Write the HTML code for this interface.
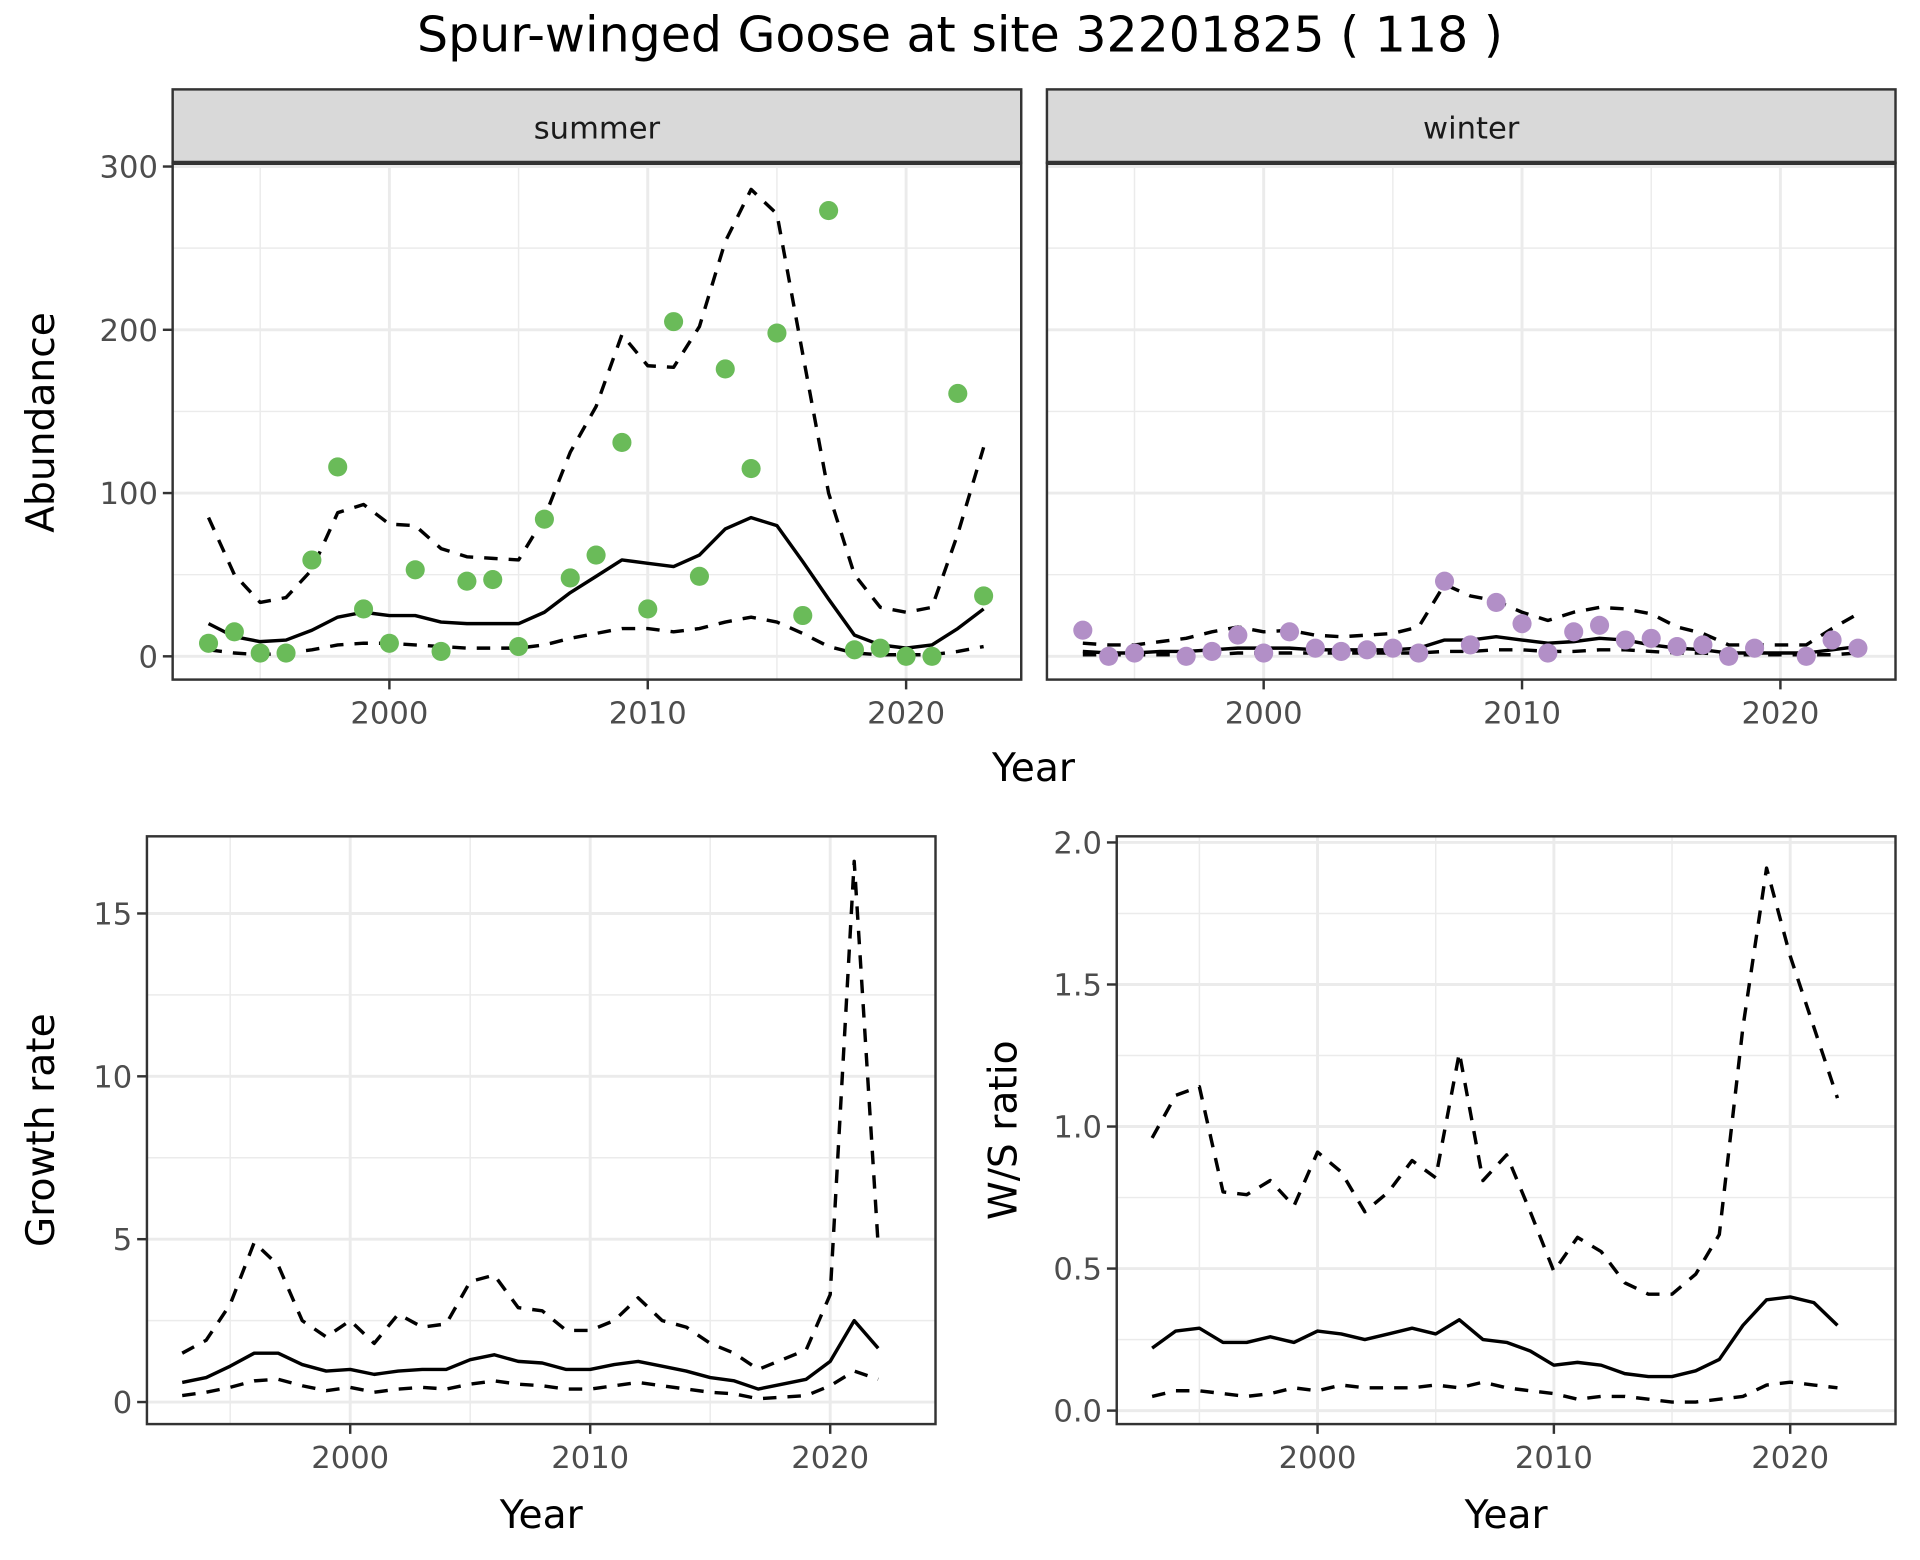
<!DOCTYPE html>
<html><head><meta charset="utf-8"><style>
html,body{margin:0;padding:0;background:#fff;}
svg{display:block;font-family:"DejaVu Sans","Liberation Sans",sans-serif;}
</style></head><body>
<svg id="chart" width="1920" height="1560" viewBox="0 0 1568 1274" xmlns="http://www.w3.org/2000/svg">
<rect width="1568" height="1274" fill="#fff"/>
<text x="784" y="42" font-size="40" text-anchor="middle" fill="#000">Spur-winged Goose at site 32201825 ( 118 )</text>
<g id="root"></g>
</svg>
<script>
const years = [];
for (let y = 1993; y <= 2023; y++) years.push(y);
const summerObs = [8,15,2,2,59,116,29,8,53,3,46,47,6,84,48,62,131,29,205,49,176,115,198,25,273,4,5,0,0,161,37];
const summerMean = [20,12,9,10,16,24,27,25,25,21,20,20,20,27,39,49,59,57,55,62,78,85,80,58,35,13,7,5,7,17,29];
const summerUpper = [85,50,33,36,53,88,93,81,80,66,61,60,59,85,125,153,197,178,177,202,254,286,271,185,100,50,30,27,30,75,128];
const summerLower = [4,2,1,2,4,7,8,8,7,6,5,5,5,7,11,14,17,17,15,17,21,24,21,14,6,2,1,1,1,3,6];
const winterObs = [16,0,2,null,0,3,13,2,15,5,3,4,5,2,46,7,33,20,2,15,19,10,11,6,7,0,5,null,0,10,5];
const winterMean = [3,2,2,3,3,4,5,5,5,4,4,4,4,5,10,10,12,10,8,9,11,10,7,5,4,2,2,2,2,4,6];
const winterUpper = [8,7,7,9,11,15,18,15,16,13,12,13,14,18,44,37,34,27,22,27,30,29,26,18,14,7,7,7,7,17,26];
const winterLower = [1,1,1,1,1,1,2,2,2,2,2,2,2,2,3,3,4,4,3,3,4,4,3,2,2,1,1,1,1,1,2];
const rYears = years.slice(0, 30);
const growthMean = [0.6,0.75,1.1,1.5,1.5,1.15,0.95,1.0,0.85,0.95,1.0,1.0,1.3,1.45,1.25,1.2,1.0,1.0,1.15,1.25,1.1,0.95,0.75,0.65,0.4,0.55,0.7,1.25,2.5,1.65];
const growthUpper = [1.5,1.9,3.0,4.9,4.2,2.5,2.0,2.5,1.8,2.7,2.3,2.4,3.7,3.9,2.9,2.8,2.2,2.2,2.5,3.2,2.5,2.3,1.8,1.5,1.0,1.3,1.6,3.3,16.6,4.8];
const growthLower = [0.2,0.3,0.45,0.65,0.7,0.5,0.35,0.45,0.3,0.4,0.45,0.4,0.55,0.65,0.55,0.5,0.4,0.4,0.5,0.6,0.5,0.4,0.3,0.25,0.1,0.15,0.2,0.5,0.95,0.7];
const wsMean = [0.22,0.28,0.29,0.24,0.24,0.26,0.24,0.28,0.27,0.25,0.27,0.29,0.27,0.32,0.25,0.24,0.21,0.16,0.17,0.16,0.13,0.12,0.12,0.14,0.18,0.3,0.39,0.40,0.38,0.30];
const wsUpper = [0.96,1.11,1.14,0.77,0.76,0.81,0.72,0.91,0.84,0.70,0.77,0.88,0.82,1.26,0.81,0.90,0.70,0.49,0.61,0.56,0.45,0.41,0.41,0.48,0.62,1.35,1.91,1.60,1.35,1.10];
const wsLower = [0.05,0.07,0.07,0.06,0.05,0.06,0.08,0.07,0.09,0.08,0.08,0.08,0.09,0.08,0.10,0.08,0.07,0.06,0.04,0.05,0.05,0.04,0.03,0.03,0.04,0.05,0.09,0.10,0.09,0.08];
const xTicks = [2000, 2010, 2020];
const abTicks = [0, 100, 200, 300];
const grTicks = [0, 5, 10, 15];
const wsTicks = ["0.0", "0.5", "1.0", "1.5", "2.0"];

const NS = "http://www.w3.org/2000/svg";
const root = document.getElementById("root");
function el(tag, attrs, parent) {
  const e = document.createElementNS(NS, tag);
  for (const k in attrs) e.setAttribute(k, attrs[k]);
  (parent || root).appendChild(e);
  return e;
}
function lin(d0, d1, r0, r1) { return v => r0 + (v - d0) * (r1 - r0) / (d1 - d0); }

function panel(name, box, xs, ys, yTickVals, yLabels, showY, minorY) {
  const g = el("g", {});
  
  
  el("rect", {x: box.x0, y: box.y0, width: box.x1 - box.x0, height: box.y1 - box.y0, fill: "#fff"}, g);
  for (let yr = 1995; yr <= 2025; yr += 10) {
    const px = xs(yr);
    if (px > box.x0 && px < box.x1) el("line", {x1: px, x2: px, y1: box.y0, y2: box.y1, stroke: "#ebebeb", "stroke-width": 1.2}, g);
  }
  minorY.forEach(v => { const py = ys(v); el("line", {x1: box.x0, x2: box.x1, y1: py, y2: py, stroke: "#ebebeb", "stroke-width": 1.2}, g); });
  xTicks.forEach(t => { const px = xs(t); el("line", {x1: px, x2: px, y1: box.y0, y2: box.y1, stroke: "#ebebeb", "stroke-width": 2.4}, g); });
  yTickVals.forEach(v => { const py = ys(v); el("line", {x1: box.x0, x2: box.x1, y1: py, y2: py, stroke: "#ebebeb", "stroke-width": 2.4}, g); });
  xTicks.forEach(t => {
    const px = xs(t);
    el("line", {x1: px, x2: px, y1: box.y1, y2: box.y1 + 8, stroke: "#333", "stroke-width": 2}, g);
    const tx = el("text", {x: px, y: box.y1 + 36, "font-size": 25, fill: "#4d4d4d", "text-anchor": "middle"}, g);
    tx.textContent = t;
    
    
  });
  if (showY) yTickVals.forEach((v, i) => {
    const py = ys(v);
    el("line", {x1: box.x0 - 8, x2: box.x0, y1: py, y2: py, stroke: "#333", "stroke-width": 2}, g);
    const tx = el("text", {x: box.x0 - 12, y: py + 9, "font-size": 25, fill: "#4d4d4d", "text-anchor": "end"}, g);
    tx.textContent = yLabels[i];
    
    
  });
  return g;
}
function line(g, xsArr, vals, xs, ys, dashed, name) {
  const pts = [];
  vals.forEach((v, i) => { if (v != null) pts.push(xs(xsArr[i]).toFixed(1) + "," + ys(v).toFixed(1)); });
  const p = el("polyline", {points: pts.join(" "), fill: "none", stroke: "#000", "stroke-width": 2.8, "stroke-dasharray": dashed ? "11,9" : "none", "stroke-linejoin": "round"}, g);
  
  
}
function points(g, vals, xs, ys, color, name) {
  vals.forEach((v, i) => {
    if (v == null) return;
    const c = el("circle", {cx: xs(years[i]), cy: ys(v), r: 7.8, fill: color}, g);
    
    
  });
}
function border(g, box) {
  el("rect", {x: box.x0, y: box.y0, width: box.x1 - box.x0, height: box.y1 - box.y0, fill: "none", stroke: "#333", "stroke-width": 2}, g);
}
function strip(box, label, name) {
  const g = el("g", {});
  
  
  el("rect", {x: box.x0, y: 73, width: box.x1 - box.x0, height: box.y0 - 73, fill: "#d9d9d9", stroke: "#333", "stroke-width": 2}, g);
  el("line", {x1: box.x0, x2: box.x1, y1: box.y0, y2: box.y0, stroke: "#333", "stroke-width": 3.5}, g);
  const t = el("text", {x: (box.x0 + box.x1) / 2, y: 113, "font-size": 25, fill: "#1a1a1a", "text-anchor": "middle"}, g);
  t.textContent = label;
}
function title(txt, x, y, rot, name) {
  const t = el("text", {x: x, y: y, "font-size": 32, fill: "#000", "text-anchor": "middle", transform: rot ? `rotate(-90 ${x} ${y})` : ""});
  t.textContent = txt;
  
  
}

const sBox = {x0: 141, x1: 834, y0: 133, y1: 555};
const wBox = {x0: 855, x1: 1548, y0: 133, y1: 555};
const sx = lin(2000, 2020, 318, 740);
const wx = lin(2000, 2020, 1032, 1454);
const ay = lin(0, 300, 536, 136);
const gS = panel("summer-panel", sBox, sx, ay, abTicks, abTicks, true, [50, 150, 250]);
line(gS, years, summerUpper, sx, ay, true, "summer-upper-ci");
line(gS, years, summerLower, sx, ay, true, "summer-lower-ci");
line(gS, years, summerMean, sx, ay, false, "summer-trend");
points(gS, summerObs, sx, ay, "#6abb59", "summer-count-point");
border(gS, sBox);
const gW = panel("winter-panel", wBox, wx, ay, abTicks, abTicks, false, [50, 150, 250]);
line(gW, years, winterUpper, wx, ay, true, "winter-upper-ci");
line(gW, years, winterLower, wx, ay, true, "winter-lower-ci");
line(gW, years, winterMean, wx, ay, false, "winter-trend");
points(gW, winterObs, wx, ay, "#b28fc7", "winter-count-point");
border(gW, wBox);
strip(sBox, "summer", "summer-strip");
strip(wBox, "winter", "winter-strip");
title("Abundance", 44, 345, true, "abundance-axis-title");
title("Year", 844, 638, false, "top-x-axis-title");

const gBox = {x0: 120, x1: 764, y0: 683, y1: 1163};
const gx = lin(2000, 2020, 286, 678);
const gy = lin(0, 15, 1145, 746);
const gG = panel("growth-rate-panel", gBox, gx, gy, grTicks, grTicks, true, [2.5, 7.5, 12.5]);
line(gG, rYears, growthUpper, gx, gy, true, "growth-upper-ci");
line(gG, rYears, growthLower, gx, gy, true, "growth-lower-ci");
line(gG, rYears, growthMean, gx, gy, false, "growth-trend");
border(gG, gBox);
title("Growth rate", 44, 923, true, "growth-rate-axis-title");
title("Year", 442, 1248, false, "growth-x-axis-title");

const rBox = {x0: 912, x1: 1548, y0: 683, y1: 1163};
const rx = lin(2000, 2020, 1076, 1462);
const ry = lin(0, 2, 1152, 688);
const gR = panel("ws-ratio-panel", rBox, rx, ry, wsTicks.map(Number), wsTicks, true, [0.25, 0.75, 1.25, 1.75]);
line(gR, rYears, wsUpper, rx, ry, true, "ws-upper-ci");
line(gR, rYears, wsLower, rx, ry, true, "ws-lower-ci");
line(gR, rYears, wsMean, rx, ry, false, "ws-trend");
border(gR, rBox);
title("W/S ratio", 830, 923, true, "ws-ratio-axis-title");
title("Year", 1230, 1248, false, "ws-x-axis-title");
</script>
</body></html>
